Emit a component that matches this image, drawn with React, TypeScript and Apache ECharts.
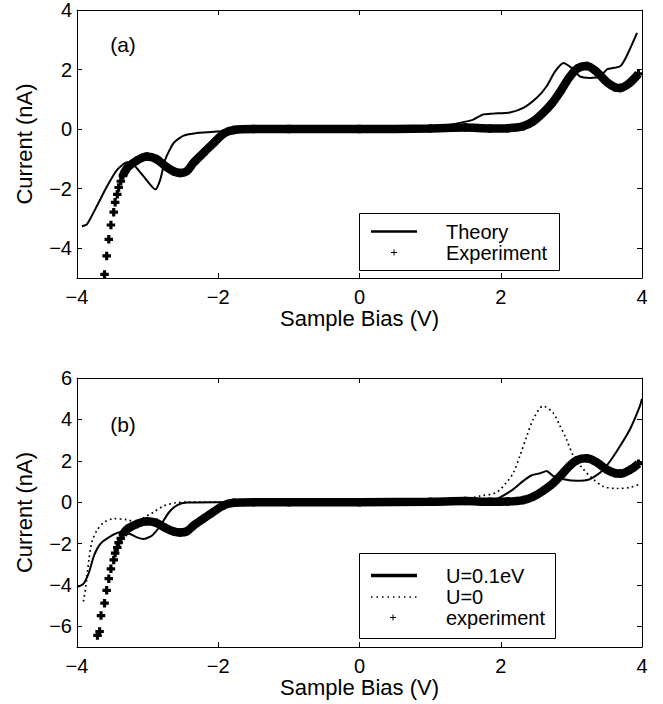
import React, { useEffect, useRef } from "react";
import * as echarts from "echarts";

// ---------- data ----------
const xTicks = [-4, -2, 0, 2, 4];
const topYTicks = [-4, -2, 0, 2, 4];
const bottomYTicks = [-6, -4, -2, 0, 2, 4, 6];

// Panel (a): theory
const theoryX = [-3.93, -3.86, -3.72, -3.575, -3.43, -3.29, -3.22, -3.06, -2.89, -2.82, -2.75, -2.63, -2.49, -2.3, -2.02, -1.68, -1.0, 0, 0.8, 1.14, 1.42, 1.61, 1.75, 1.89, 2.13, 2.32, 2.51, 2.65, 2.77, 2.89, 3.03, 3.12, 3.26, 3.41, 3.5, 3.69, 3.78, 3.93];
const theoryY = [-3.26, -3.2, -2.59, -1.92, -1.36, -1.11, -1.14, -1.58, -2.03, -1.69, -1.02, -0.46, -0.22, -0.13, -0.08, -0.03, 0.0, 0.0, 0.02, 0.09, 0.21, 0.32, 0.49, 0.52, 0.56, 0.71, 1.05, 1.44, 1.94, 2.22, 2.0, 1.77, 1.72, 1.77, 2.0, 2.11, 2.44, 3.23];

// Experiment (shared by both panels)
const expX = [-3.71, -3.68, -3.66, -3.61, -3.58, -3.55, -3.52, -3.48, -3.46, -3.43, -3.41, -3.38, -3.35, -3.32, -3.28, -3.15, -3.01, -2.88, -2.75, -2.63, -2.54, -2.44, -2.35, -2.21, -2.08, -1.92, -1.78, -1.5, -1.0, 0, 1.0, 1.5, 1.85, 2.1, 2.32, 2.46, 2.6, 2.72, 2.84, 2.96, 3.08, 3.22, 3.36, 3.5, 3.62, 3.69, 3.83, 3.95];
const expY = [-6.44, -6.25, -5.48, -4.88, -4.26, -3.7, -3.22, -2.79, -2.46, -2.19, -1.96, -1.75, -1.56, -1.42, -1.28, -1.05, -0.92, -1.0, -1.24, -1.42, -1.47, -1.4, -1.13, -0.8, -0.5, -0.15, -0.03, 0.0, 0.0, 0.0, 0.02, 0.05, 0.02, 0.03, 0.1, 0.26, 0.55, 0.85, 1.25, 1.7, 2.03, 2.12, 1.92, 1.58, 1.4, 1.38, 1.56, 1.86];

// Panel (b): U = 0.1 eV
const u01X = [-4.0, -3.91, -3.83, -3.76, -3.67, -3.55, -3.39, -3.25, -3.15, -3.06, -2.94, -2.82, -2.7, -2.58, -2.44, -2.0, -1.0, 0, 1.0, 1.5, 1.9, 1.99, 2.18, 2.32, 2.44, 2.56, 2.65, 2.74, 2.89, 3.08, 3.26, 3.41, 3.55, 3.69, 3.83, 3.97, 4.0];
const u01Y = [-4.11, -3.95, -3.39, -2.59, -2.02, -1.7, -1.46, -1.54, -1.7, -1.78, -1.62, -1.14, -0.5, -0.14, -0.02, 0.0, 0.0, 0.0, 0.02, 0.05, 0.12, 0.23, 0.63, 1.03, 1.3, 1.4, 1.51, 1.27, 1.11, 1.03, 1.11, 1.43, 1.99, 2.71, 3.52, 4.64, 5.0];

// Panel (b): U = 0
const u0X = [-3.91, -3.88, -3.83, -3.79, -3.72, -3.62, -3.48, -3.29, -3.15, -3.06, -2.91, -2.77, -2.58, -2.4, -1.0, 0, 1.0, 1.5, 1.71, 1.94, 2.08, 2.18, 2.27, 2.37, 2.46, 2.6, 2.74, 2.84, 2.93, 3.03, 3.17, 3.31, 3.45, 3.64, 3.83, 3.97];
const u0Y = [-4.8, -4.19, -2.75, -1.94, -1.38, -0.98, -0.8, -0.85, -0.98, -0.76, -0.47, -0.18, -0.02, 0.0, 0.0, 0.0, 0.05, 0.15, 0.3, 0.47, 0.95, 1.43, 2.23, 3.2, 4.0, 4.64, 4.32, 3.68, 3.04, 2.23, 1.59, 1.11, 0.76, 0.66, 0.71, 0.87];

// ---------- helpers ----------
const FONT = '"Liberation Sans", Arial, Helvetica, sans-serif';
const BLACK = "#000";
const PLUS = "path://M2.5,0H5.5V2.5H8V5.5H5.5V8H2.5V5.5H0V2.5H2.5Z";

const zip = (xs: number[], ys: number[]) => xs.map((x, i) => [x, ys[i]]);
const fmt = (v: number) => (v < 0 ? "\u2212" + Math.abs(v) : String(v));

const expAll = zip(expX, expY);
const expDense = expAll.filter((p) => p[0] >= -3.36);

function xAxis(gridIndex: number, position: "bottom" | "top", main: boolean) {
  return {
    type: "value",
    gridIndex,
    position,
    min: xTicks[0],
    max: xTicks[xTicks.length - 1],
    interval: 2,
    name: main ? "Sample Bias (V)" : "",
    nameLocation: "middle",
    nameGap: 29,
    nameTextStyle: { color: BLACK, fontSize: 22, fontFamily: FONT },
    axisLine: { show: true, onZero: false, lineStyle: { color: BLACK, width: 1 } },
    axisTick: { show: true, inside: true, length: 5, lineStyle: { color: BLACK, width: 1 } },
    axisLabel: { show: main, color: BLACK, fontSize: 20, fontFamily: FONT, margin: 9, formatter: fmt },
    splitLine: { show: false },
  };
}

function yAxis(gridIndex: number, position: "left" | "right", main: boolean, min: number, max: number, ticks: number[]) {
  return {
    type: "value",
    gridIndex,
    position,
    min,
    max,
    name: main ? "Current (nA)" : "",
    nameLocation: "middle",
    nameGap: 42,
    nameTextStyle: { color: BLACK, fontSize: 22, fontFamily: FONT },
    axisLine: { show: true, onZero: false, lineStyle: { color: BLACK, width: 1 } },
    axisTick: { show: true, inside: true, length: 5, customValues: ticks, lineStyle: { color: BLACK, width: 1 } },
    axisLabel: { show: main, customValues: ticks, color: BLACK, fontSize: 20, fontFamily: FONT, margin: 5, formatter: fmt },
    splitLine: { show: false },
  };
}

function legendText(text: string, x: number, y: number) {
  return {
    type: "text",
    x,
    y,
    z: 101,
    style: { text, fill: BLACK, fontSize: 20, fontFamily: FONT, align: "left", verticalAlign: "middle", lineHeight: 20 },
  };
}

function plusMark(cx: number, cy: number) {
  return [
    { type: "line", z: 101, shape: { x1: cx - 3, y1: cy, x2: cx + 3, y2: cy }, style: { stroke: BLACK, lineWidth: 1 } },
    { type: "line", z: 101, shape: { x1: cx, y1: cy - 3, x2: cx, y2: cy + 3 }, style: { stroke: BLACK, lineWidth: 1 } },
  ];
}

const option: any = {
  animation: false,
  backgroundColor: "#fff",
  grid: [
    { left: 77, top: 10, width: 565, height: 268, containLabel: false },
    { left: 77, top: 378, width: 565, height: 269, containLabel: false },
  ],
  xAxis: [xAxis(0, "bottom", true), xAxis(1, "bottom", true), xAxis(0, "top", false), xAxis(1, "top", false)],
  yAxis: [
    yAxis(0, "left", true, -5, 4, topYTicks),
    yAxis(1, "left", true, -7, 6, bottomYTicks),
    yAxis(0, "right", false, -5, 4, topYTicks),
    yAxis(1, "right", false, -7, 6, bottomYTicks),
  ],
  series: [
    // ---- panel (a)
    {
      name: "Experiment",
      type: "line",
      xAxisIndex: 0,
      yAxisIndex: 0,
      data: expDense,
      showSymbol: false,
      smooth: 0.3,
      lineStyle: { color: BLACK, width: 8.5 },
      clip: true,
    },
    {
      name: "Experiment",
      type: "scatter",
      xAxisIndex: 0,
      yAxisIndex: 0,
      data: expAll,
      symbol: PLUS,
      symbolSize: 8.5,
      itemStyle: { color: BLACK, opacity: 1 },
      clip: true,
    },
    {
      name: "Theory",
      type: "line",
      xAxisIndex: 0,
      yAxisIndex: 0,
      data: zip(theoryX, theoryY),
      showSymbol: false,
      smooth: 0.2,
      lineStyle: { color: BLACK, width: 2 },
      clip: true,
    },
    // ---- panel (b)
    {
      name: "experiment",
      type: "line",
      xAxisIndex: 1,
      yAxisIndex: 1,
      data: expDense,
      showSymbol: false,
      smooth: 0.3,
      lineStyle: { color: BLACK, width: 8.5 },
      clip: true,
    },
    {
      name: "experiment",
      type: "scatter",
      xAxisIndex: 1,
      yAxisIndex: 1,
      data: expAll,
      symbol: PLUS,
      symbolSize: 8.5,
      itemStyle: { color: BLACK, opacity: 1 },
      clip: true,
    },
    {
      name: "U=0",
      type: "line",
      xAxisIndex: 1,
      yAxisIndex: 1,
      data: zip(u0X, u0Y),
      showSymbol: false,
      smooth: 0.3,
      lineStyle: { color: BLACK, width: 1.7, type: [1.7, 3.3] },
      clip: true,
    },
    {
      name: "U=0.1eV",
      type: "line",
      xAxisIndex: 1,
      yAxisIndex: 1,
      data: zip(u01X, u01Y),
      showSymbol: false,
      smooth: 0.2,
      lineStyle: { color: BLACK, width: 2 },
      clip: true,
    },
  ],
  graphic: [
    { type: "text", x: 123, y: 44, z: 101, style: { text: "(a)", fill: BLACK, fontSize: 21, fontFamily: FONT, align: "center", verticalAlign: "middle" } },
    { type: "text", x: 123, y: 424, z: 101, style: { text: "(b)", fill: BLACK, fontSize: 21, fontFamily: FONT, align: "center", verticalAlign: "middle" } },
    // legend (a)
    { type: "rect", z: 100, shape: { x: 359.5, y: 213.5, width: 200, height: 57 }, style: { fill: "#fff", stroke: BLACK, lineWidth: 1 } },
    { type: "line", z: 101, shape: { x1: 371, y1: 231.5, x2: 417, y2: 231.5 }, style: { stroke: BLACK, lineWidth: 2.5 } },
    ...plusMark(394, 252.5),
    legendText("Theory", 446, 231.5),
    legendText("Experiment", 446, 252.5),
    // legend (b)
    { type: "rect", z: 100, shape: { x: 359.5, y: 553.5, width: 196, height: 85 }, style: { fill: "#fff", stroke: BLACK, lineWidth: 1 } },
    { type: "line", z: 101, shape: { x1: 371, y1: 575.5, x2: 417, y2: 575.5 }, style: { stroke: BLACK, lineWidth: 3.5 } },
    { type: "line", z: 101, shape: { x1: 371, y1: 597, x2: 417, y2: 597 }, style: { stroke: BLACK, lineWidth: 1.5, lineDash: [1.5, 4] } },
    ...plusMark(393, 617.5),
    legendText("U=0.1eV", 446, 575.5),
    legendText("U=0", 446, 596.5),
    legendText("experiment", 446, 617.5),
  ],
};

export default function App() {
  const ref = useRef<HTMLDivElement>(null);
  useEffect(() => {
    const chart = echarts.init(ref.current as HTMLDivElement, null, { renderer: "svg" });
    chart.setOption(option);
    return () => chart.dispose();
  }, []);
  return (
    <div
      ref={ref}
      style={{ position: "absolute", left: 0, top: 0, width: 663, height: 704, background: "#fff" }}
    />
  );
}
